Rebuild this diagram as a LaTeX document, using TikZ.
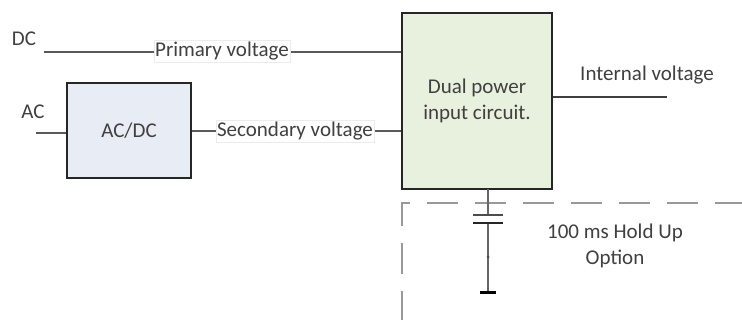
\documentclass[tikz,border=0pt]{standalone}
\usepackage{fontspec}
\setmainfont{Carlito}
\definecolor{txt}{HTML}{404040}
\tikzset{
  wire/.style={draw=black!65,line width=1.5pt},
  block/.style={draw=black!85,line width=1.6pt,inner sep=0pt,text=txt,align=center,font=\fontsize{21}{26.5}\selectfont},
  lbl/.style={text=txt,font=\fontsize{21}{26.5}\selectfont,inner sep=0pt,align=center},
  tag/.style={lbl,fill=white,draw=black!8,line width=.6pt,inner xsep=1pt,inner ysep=2pt},
}
\begin{document}
\begin{tikzpicture}[x=1pt,y=-1pt]
\useasboundingbox (0,0) rectangle (742,320);
\fill[white] (0,0) rectangle (742,320);
\node[block,minimum width=124pt,minimum height=95pt,fill={rgb,255:red,232;green,236;blue,244}] (acdc) at (129,130.5) {AC/DC};
\node[block,minimum width=150pt,minimum height=176pt,fill={rgb,255:red,232;green,240;blue,222}] (dual) at (477,101) {\raisebox{-1pt}{Dual power}\\\raisebox{-1pt}{input circuit.}};
\coordinate (dcin) at (44,52);
\coordinate (dcend) at (dual.west |- dcin);
\coordinate (acin) at (36,133);
\coordinate (acend) at (acdc.west |- acin);
\coordinate (secs) at (acdc.east |- 0,131);
\coordinate (sece) at (dual.west |- 0,131);
\coordinate (ints) at (dual.east |- 0,97);
\coordinate (inte) at (667,97);
\coordinate (captop) at (488,189);
\coordinate (p1) at (488,215);
\coordinate (p2) at (488,223);
\coordinate (gnd) at (488,293);
\coordinate (dot) at (488,257);
\coordinate (dashb) at (402,320);
\coordinate (dashc) at (402,203);
\coordinate (dashe) at (742,203);
\draw[draw=black!40,line width=2.4pt,dash pattern=on 31pt off 17pt,dash phase=2pt] (dashb) -- (dashc) -- (dashe);
\draw[wire] (dcin) -- (dcend);
\node[tag] (prim) at (222,51.5) {Primary voltage};
\draw[wire,line width=1.2pt] (acin) -- (acend);
\draw[wire,line width=1.2pt] (secs) -- (sece);
\node[tag] (sec) at (295,131) {Secondary voltage};
\draw[wire,line width=1.6pt,draw=black!75] (ints) -- (inte);
\draw[wire,draw=black!60] (captop) -- (p1);
\draw[wire,draw=black!60] (p2) -- (gnd);
\fill[black!70] (dot) circle (1.5pt);
\draw[draw=black!70,line width=1.4pt] ([xshift=-15pt]p1) -- ([xshift=15pt]p1);
\draw[draw=black!85,line width=1.4pt] ([xshift=-15pt]p2) -- ([xshift=15pt]p2);
\draw[draw=black,line width=3pt] ([xshift=-8pt]gnd) -- ([xshift=8pt]gnd);
\node[lbl] (dc) at (24,39) {DC};
\node[lbl] (ac) at (33,112) {AC};
\node[lbl] (iv) at (647,75) {Internal voltage};
\node[lbl] (hold) at (615,246) {100 ms Hold Up\\Option};
\end{tikzpicture}
\end{document}
